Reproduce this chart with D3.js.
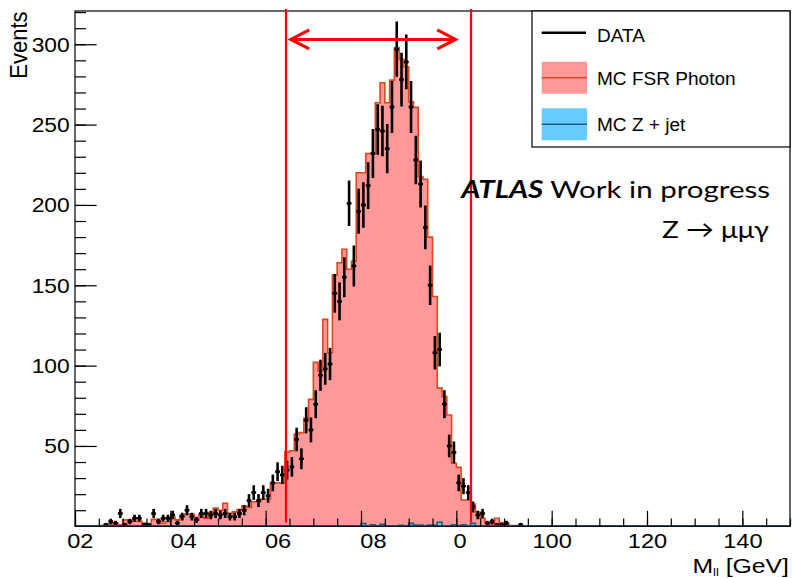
<!DOCTYPE html>
<html>
<head>
<meta charset="utf-8">
<script src="https://cdn.jsdelivr.net/npm/d3@7"></script>
<style>
  body { margin: 0; background: #fff; }
  svg { display: block; }
</style>
</head>
<body>
<svg id="chart" width="792" height="578"></svg>
<script>
// ---- histogram contents: 1 GeV bins from 0 to 150 GeV ----
const binLow = 0;
const binWidth = 1;

// observed events per bin
const dataCounts = [
  0, 0, 0, 0, 0, 0, 1, 3, 2, 8,
  1, 3, 5, 5, 1, 1, 8, 3, 5, 5,
  7, 2, 6, 10, 6, 4, 8, 8, 7, 8,
  7, 8, 6, 6, 8, 10, 16, 21, 16, 21,
  19, 27, 34, 32, 35, 37, 54, 42, 66, 60,
  76, 94, 98, 101, 145, 140, 155, 201, 162, 196,
  200, 212, 232, 247, 246, 235, 261, 297, 278, 289,
  261, 228, 213, 186, 150, 108, 110, 76, 50, 46,
  27, 25, 21, 12, 7, 8, 2, 3, 1, 1,
  2, 0, 0, 1, 0, 0, 0, 0, 0, 0,
  0, 0, 0, 0, 0, 0, 0, 0, 0, 0,
  0, 0, 0, 0, 0, 0, 0, 0, 0, 0,
  0, 0, 0, 0, 0, 0, 0, 0, 0, 0,
  0, 0, 0, 0, 0, 0, 0, 0, 0, 0,
  0, 0, 0, 0, 0, 0, 0, 0, 0, 0
];

// MC FSR photon prediction per bin
const mcFsrPhoton = [
  0, 0, 0, 0, 0, 0.5, 0.8, 1.4, 1.8, 1.0,
  4.0, 4.0, 3.3, 3.3, 2.0, 0.8, 4.3, 4.3, 2.0, 3.0,
  5.6, 4.0, 7.0, 7.6, 7.6, 4.0, 7.6, 5.0, 8.5, 11.4,
  10.0, 14.3, 8.0, 9.0, 10.5, 12.6, 11.8, 15.3, 15.3, 17.0,
  17.0, 27.0, 27.0, 27.0, 46.2, 47.0, 57.4, 58.3, 67.2, 79.0,
  102.0, 96.6, 128.8, 108.0, 156.4, 164.0, 172.4, 160.0, 165.0, 220.0,
  220.0, 232.0, 232.0, 263.6, 276.0, 263.6, 277.7, 298.0, 290.6, 286.0,
  264.2, 260.7, 217.6, 216.0, 180.0, 143.0, 86.0, 80.7, 69.3, 39.2,
  36.7, 16.4, 16.4, 13.9, 8.9, 5.0, 2.3, 1.5, 5.0, 2.3,
  1.5, 0.5, 0.5, 0, 0, 0, 0, 0, 0, 0,
  0, 0, 0, 0, 0, 0, 0, 0, 0, 0,
  0, 0, 0, 0, 0, 0, 0, 0, 0, 0,
  0, 0, 0, 0, 0, 0, 0, 0, 0, 0,
  0, 0, 0, 0, 0, 0, 0, 0, 0, 0,
  0, 0, 0, 0, 0, 0, 0, 0, 0, 0
];

// MC Z + jet prediction per bin
const mcZJet = [
  0, 0, 0, 0, 0, 0, 0, 0, 0, 0,
  0, 0, 0, 0, 0, 0, 0, 0, 0, 0,
  0, 0, 0, 0, 0, 0, 0, 0, 0, 0,
  0, 0, 0, 0, 0, 0, 0, 0, 0, 0,
  0, 0, 0, 0, 0, 0, 0, 0, 0, 0,
  0, 0, 0, 0, 0, 0, 0, 0, 0, 0,
  1.7, 0, 1.0, 0, 1.3, 0, 0, 0, 0.7, 0,
  1.8, 0.8, 0.8, 0, 0.8, 0.8, 2.5, 0, 0, 1.0,
  0, 1.0, 0, 1.8, 0, 0, 0, 0, 0, 0,
  0, 0, 0, 0, 0, 0, 0, 0, 0, 0,
  0, 0, 0, 0, 0, 0, 0, 0, 0, 0,
  0, 0, 0, 0, 0, 0, 0, 0, 0, 0,
  0, 0, 0, 0, 0, 0, 0, 0, 0, 0,
  0, 0, 0, 0, 0, 0, 0, 0, 0, 0,
  0, 0, 0, 0, 0, 0, 0, 0, 0, 0
];

// axis ticks and labels
const xMajorTicks = [0, 20, 40, 60, 80, 100, 120, 140];
const xMinorTicks = d3.range(0, 151, 5);
const xTickLabels = ["02", "04", "06", "08", "0", "100", "120", "140"];
const xTickLabelAt = [1, 22.7, 42.5, 62.5, 80.7, 100, 120, 140];
const yMajorTicks = [50, 100, 150, 200, 250, 300];
const yMinorTicks = d3.range(0, 321, 10);

// mass window markers
const windowCuts = [44.27, 83.08];
const windowArrow = [45.25, 79.87];
const arrowLevel = 303;

const legendLabels = ["DATA", "MC FSR Photon", "MC Z + jet"];

// ---- style ----
const FONT = "'Liberation Sans', Arial, Helvetica, sans-serif";
const fsrFill = "#ff9999", fsrLine = "#e0451e";
const zjFill = "#66ccff", zjLine = "#1f5a82";
const cutColor = "#ff0000";

const W = 792, H = 578;
const plot = { left: 75, right: 790, top: 11, bottom: 526.3 };

const svg = d3.select("#chart");
svg.append("rect").attr("width", W).attr("height", H).attr("fill", "#fff");

const x = d3.scaleLinear().domain([0, 150]).range([plot.left, plot.right]);
const y = d3.scaleLinear().domain([0, 320.7]).range([plot.bottom, plot.top]);

svg.append("defs").append("clipPath").attr("id", "plotClip")
  .append("rect")
  .attr("x", plot.left).attr("y", plot.top - 3)
  .attr("width", plot.right - plot.left).attr("height", plot.bottom - plot.top + 3);

const body = svg.append("g").attr("clip-path", "url(#plotClip)");

// step outline points at bin edges
function stepPoints(values) {
  const pts = values.map((v, i) => [binLow + i * binWidth, v]);
  pts.push([binLow + values.length * binWidth, values[values.length - 1]]);
  return pts;
}
const area = d3.area()
  .x(d => x(d[0])).y0(y(0)).y1(d => y(d[1]))
  .curve(d3.curveStepAfter);
const line = d3.line()
  .x(d => x(d[0])).y(d => y(d[1]))
  .curve(d3.curveStepAfter);

function drawHist(values, fill, stroke) {
  const pts = stepPoints(values);
  body.append("path").attr("d", area(pts)).attr("fill", fill);
  body.append("path").attr("d", line(pts))
    .attr("fill", "none").attr("stroke", stroke).attr("stroke-width", 1.6);
}
drawHist(mcFsrPhoton, fsrFill, fsrLine);
drawHist(mcZJet, zjFill, zjLine);

// data points with Poisson errors
const points = dataCounts
  .map((n, i) => ({ n, lo: binLow + i * binWidth }))
  .filter(d => d.n > 0);
const dataG = body.append("g");
dataG.selectAll("line.ey").data(points).join("line")
  .attr("x1", d => x(d.lo + binWidth / 2)).attr("x2", d => x(d.lo + binWidth / 2))
  .attr("y1", d => y(d.n - Math.sqrt(d.n))).attr("y2", d => y(d.n + Math.sqrt(d.n)))
  .attr("stroke", "#000").attr("stroke-width", 2.6);
dataG.selectAll("line.ex").data(points).join("line")
  .attr("x1", d => x(d.lo)).attr("x2", d => x(d.lo + binWidth))
  .attr("y1", d => y(d.n)).attr("y2", d => y(d.n))
  .attr("stroke", "#000").attr("stroke-width", 2.4);
dataG.selectAll("circle").data(points).join("circle")
  .attr("cx", d => x(d.lo + binWidth / 2)).attr("cy", d => y(d.n))
  .attr("r", 1.9).attr("fill", "#000");

// frame
svg.append("rect")
  .attr("x", plot.left).attr("y", plot.top)
  .attr("width", plot.right - plot.left).attr("height", plot.bottom - plot.top)
  .attr("fill", "none").attr("stroke", "#000").attr("stroke-width", 1.2);

// axis ticks (pointing inwards)
function tickAxis(axis, transform) {
  const g = svg.append("g").attr("transform", transform).call(axis);
  g.select(".domain").remove();
  g.selectAll(".tick line").attr("stroke", "#000").attr("stroke-width", 1.2);
  return g;
}
tickAxis(d3.axisBottom(x).tickValues(xMinorTicks).tickSize(-7.8).tickFormat(""),
  `translate(0,${plot.bottom})`);
tickAxis(d3.axisBottom(x).tickValues(xMajorTicks).tickSize(-15.5).tickFormat(""),
  `translate(0,${plot.bottom})`);
tickAxis(d3.axisLeft(y).tickValues(yMinorTicks.filter(v => v > 0)).tickSize(-11).tickFormat(""),
  `translate(${plot.left},0)`);
const yAx = tickAxis(d3.axisLeft(y).tickValues(yMajorTicks).tickSize(-21.7).tickPadding(5),
  `translate(${plot.left},0)`);
yAx.selectAll(".tick text")
  .attr("font-family", FONT).attr("font-size", 19.5).attr("fill", "#000")
  .attr("x", -4.5).attr("dy", "0.36em")
  .attr("transform", "scale(1.17,1)");

// bottom tick labels
const xLab = svg.append("g").attr("transform", `translate(0,${plot.bottom})`)
  .call(d3.axisBottom(x).tickValues(xTickLabelAt)
    .tickFormat((d, i) => xTickLabels[i]).tickSize(0));
xLab.select(".domain").remove();
xLab.selectAll(".tick line").remove();
xLab.selectAll(".tick text")
  .attr("font-family", FONT).attr("font-size", 20.5).attr("fill", "#000")
  .attr("y", 21.7).attr("dy", 0)
  .attr("transform", "scale(1.15,1)");

// the Z + jet outline runs along the x axis
body.append("line")
  .attr("x1", plot.left).attr("x2", plot.right)
  .attr("y1", y(0)).attr("y2", y(0))
  .attr("stroke", zjLine).attr("stroke-width", 2);

// axis titles
const xTitle = svg.append("text")
  .attr("font-family", FONT).attr("font-size", 21).attr("fill", "#000")
  .attr("text-anchor", "end")
  .attr("transform", "translate(789,572.5) scale(1.18,1)");
xTitle.append("tspan").text("M");
xTitle.append("tspan").attr("font-size", 11).attr("dy", 3).text("ll");
xTitle.append("tspan").attr("dy", -3).text(" [GeV]");

svg.append("text")
  .attr("font-family", FONT).attr("font-size", 22).attr("fill", "#000")
  .attr("text-anchor", "end")
  .attr("transform", "translate(26.5,11.5) rotate(-90) scale(1,1.1)")
  .text("Events");

// mass window lines and arrow
const cutG = svg.append("g").attr("stroke", cutColor).attr("fill", "none");
cutG.selectAll("line").data(windowCuts).join("line")
  .attr("x1", d => x(d)).attr("x2", d => x(d))
  .attr("y1", y(322)).attr("y2", y(2.3))
  .attr("stroke-width", 2.2);
const ay = y(arrowLevel);
const xa0 = x(windowArrow[0]), xa1 = x(windowArrow[1]);
cutG.append("line").attr("x1", xa0).attr("x2", xa1).attr("y1", ay).attr("y2", ay)
  .attr("stroke-width", 3);
cutG.append("path")
  .attr("d", `M${xa0 + 18.5},${ay - 9.5}L${xa0},${ay}L${xa0 + 18.5},${ay + 9.5}`)
  .attr("stroke-width", 3);
cutG.append("path")
  .attr("d", `M${xa1 - 18.5},${ay - 9.5}L${xa1},${ay}L${xa1 - 18.5},${ay + 9.5}`)
  .attr("stroke-width", 3);

// legend
const leg = svg.append("g");
leg.append("rect").attr("x", 532).attr("y", 11).attr("width", 258).attr("height", 136)
  .attr("fill", "#fff").attr("stroke", "#000").attr("stroke-width", 1.2);
const rowY = [32.7, 77.7, 124.3];
const textBase = [41.7, 85, 131];
leg.append("line").attr("x1", 541.7).attr("x2", 586).attr("y1", rowY[0]).attr("y2", rowY[0])
  .attr("stroke", "#000").attr("stroke-width", 2.4);
[[fsrFill, fsrLine], [zjFill, zjLine]].forEach(([f, s], k) => {
  const cy = rowY[k + 1];
  leg.append("rect").attr("x", 541.7).attr("y", cy - 16).attr("width", 45.3).attr("height", 32)
    .attr("fill", f);
  leg.append("line").attr("x1", 541.7).attr("x2", 587).attr("y1", cy).attr("y2", cy)
    .attr("stroke", s).attr("stroke-width", 1.4);
});
leg.selectAll("text").data(legendLabels).join("text")
  .attr("font-family", FONT).attr("font-size", 18.5).attr("fill", "#000")
  .attr("transform", (d, i) => `translate(597,${textBase[i]}) scale(1.03,1)`)
  .text(d => d);

// experiment label, fitted to its box
function fitRight(sel, xRight, baseline, width) {
  sel.attr("text-anchor", "end").attr("transform", `translate(${xRight},${baseline})`);
  const w = sel.node().getComputedTextLength();
  sel.attr("transform", `translate(${xRight},${baseline}) scale(${width / w},1)`);
}
const LABEL_FONT = "Lato, 'Open Sans', sans-serif";
const atlas = svg.append("text").attr("font-family", LABEL_FONT).attr("font-size", 24)
  .attr("fill", "#000");
atlas.append("tspan").attr("font-weight", "bold").attr("font-style", "italic").text("ATLAS");
atlas.append("tspan").text(" Work in progress");
fitRight(atlas, 770, 198.3, 309);

const proc = svg.append("text").attr("font-family", LABEL_FONT).attr("font-size", 24)
  .attr("fill", "#000").text("Z \u2192 \u03bc\u03bc\u03b3");
fitRight(proc, 769, 238.3, 107);
</script>
</body>
</html>
